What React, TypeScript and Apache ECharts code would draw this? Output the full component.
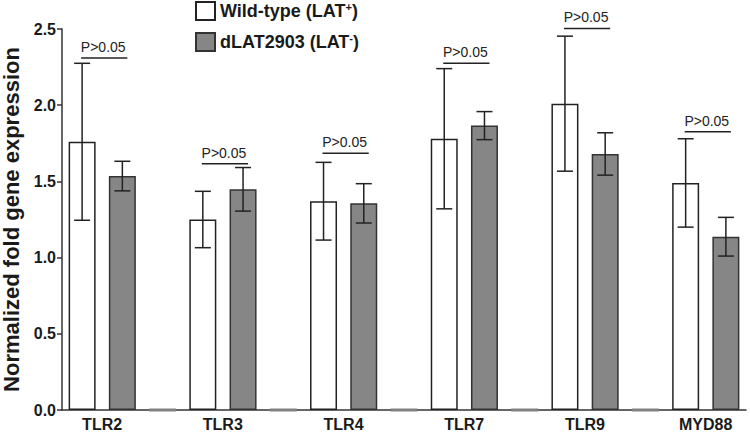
import React, { useEffect, useRef } from 'react';
import * as echarts from 'echarts';

const genes = ['TLR2', 'TLR3', 'TLR4', 'TLR7', 'TLR9', 'MYD88'];
const wildTypeMean = [1.76, 1.25, 1.37, 1.78, 2.01, 1.49];
const wildTypeSD = [0.515, 0.185, 0.255, 0.46, 0.443, 0.29];
const dlatMean = [1.535, 1.448, 1.356, 1.866, 1.68, 1.137];
const dlatSD = [0.097, 0.143, 0.129, 0.092, 0.139, 0.127];
const spacerValue = 0;
const pLabels = ['P>0.05', 'P>0.05', 'P>0.05', 'P>0.05', 'P>0.05', 'P>0.05'];
const pBracketHeights = [2.31, 1.616, 1.684, 2.275, 2.504, 1.826];
const yMin = 0;
const yMax = 2.5;
const yInterval = 0.5;

const WT_NAME = 'Wild-type (LAT+)';
const DL_NAME = 'dLAT2903 (LAT-)';
const FONT = 'Arial, "Liberation Sans", sans-serif';

// 3 slots per gene: wild-type, dLAT, spacer (no spacer after last gene)
const slots: string[] = [];
const wtData: (number | string)[] = [];
const dlData: (number | string)[] = [];
const spData: number[][] = [];
genes.forEach((g, i) => {
  slots.push(g);
  wtData.push(wildTypeMean[i]); dlData.push('-');
  slots.push(g + ' dLAT');
  wtData.push('-'); dlData.push(dlatMean[i]);
  if (i < genes.length - 1) {
    slots.push('gap ' + i);
    wtData.push('-'); dlData.push('-');
    spData.push([slots.length - 1, spacerValue]);
  }
});

const slotOf = (i: number) => i * 3;

const errData: number[][] = [];
genes.forEach((g, i) => {
  errData.push([slotOf(i), wildTypeMean[i] - wildTypeSD[i], wildTypeMean[i] + wildTypeSD[i]]);
  errData.push([slotOf(i) + 1, dlatMean[i] - dlatSD[i], dlatMean[i] + dlatSD[i]]);
});

const bracketData = genes.map((g, i) => [slotOf(i), slotOf(i) + 1, pBracketHeights[i]]);

export default function App() {
  const ref = useRef<HTMLDivElement>(null);
  useEffect(() => {
    if (!ref.current) return;
    const chart = echarts.init(ref.current, undefined, { renderer: 'svg' });
    const errStyle = { stroke: '#222', lineWidth: 1.5 };
    chart.setOption({
      animation: false,
      backgroundColor: '#fff',
      textStyle: { fontFamily: FONT },
      grid: { left: 62, right: 4, top: 29, bottom: 22, containLabel: false, outerBoundsMode: 'none' },
      legend: {
        orient: 'vertical',
        left: 195,
        top: 1,
        padding: 0,
        icon: 'rect',
        itemWidth: 19,
        itemHeight: 18,
        itemGap: 11,
        data: [WT_NAME, DL_NAME],
        formatter: (name: string) =>
          name === WT_NAME
            ? '{b|Wild-type (LAT}{s|+}{b|)}'
            : '{b|dLAT2903 (LAT}{s|-}{b|)}',
        textStyle: {
          rich: {
            b: { fontFamily: FONT, fontWeight: 'bold', fontSize: 18, color: '#1a1a1a', lineHeight: 20 },
            s: { fontFamily: FONT, fontWeight: 'bold', fontSize: 11, color: '#1a1a1a', verticalAlign: 'top', lineHeight: 12 },
          },
        },
      },
      xAxis: {
        type: 'category',
        data: slots,
        axisLine: { lineStyle: { color: '#333', width: 1.5 } },
        axisTick: { show: false },
        axisLabel: {
          interval: (idx: number) => idx % 3 === 0,
          formatter: (v: string) => v,
          fontFamily: FONT,
          fontWeight: 'bold',
          fontSize: 16,
          color: '#1a1a1a',
          margin: 6,
          padding: [0, 0, 0, 40],
        },
      },
      yAxis: {
        type: 'value',
        min: yMin,
        max: yMax,
        interval: yInterval,
        name: 'Normalized fold gene expression',
        nameLocation: 'middle',
        nameGap: 34,
        nameTextStyle: { fontFamily: FONT, fontWeight: 'bold', fontSize: 22, color: '#1a1a1a' },
        axisLine: { show: true, lineStyle: { color: '#333', width: 1.5 } },
        axisTick: { show: true, length: 5, lineStyle: { color: '#333', width: 1.5 } },
        splitLine: { show: false },
        axisLabel: {
          formatter: (v: number) => v.toFixed(1),
          fontFamily: FONT,
          fontWeight: 'bold',
          fontSize: 16,
          color: '#1a1a1a',
          margin: 6,
        },
      },
      series: [
        {
          name: WT_NAME,
          type: 'bar',
          stack: 'all',
          barWidth: 27,
          data: wtData,
          itemStyle: { color: '#fff', borderColor: '#222', borderWidth: 1.5 },
        },
        {
          name: DL_NAME,
          type: 'bar',
          stack: 'all',
          barWidth: 27,
          data: dlData,
          itemStyle: { color: '#868686', borderColor: '#333', borderWidth: 1.5 },
        },
        {
          name: 'spacer',
          type: 'custom',
          z: 4,
          clip: false,
          encode: { x: 0, y: 1 },
          data: spData,
          renderItem: (params: any, api: any) => {
            const p = api.coord([api.value(0), api.value(1)]);
            const w = api.size([1, 0])[0] * 0.67;
            return {
              type: 'rect',
              shape: { x: p[0] - w / 2, y: p[1] - 1.5, width: w, height: 3 },
              style: { fill: '#808080' },
            };
          },
        },
        {
          name: 'error',
          type: 'custom',
          z: 5,
          clip: false,
          encode: { x: 0, y: [1, 2] },
          data: errData,
          renderItem: (params: any, api: any) => {
            const x = api.value(0);
            const lo = api.coord([x, api.value(1)]);
            const hi = api.coord([x, api.value(2)]);
            const hw = 8;
            return {
              type: 'group',
              children: [
                { type: 'line', shape: { x1: hi[0], y1: hi[1], x2: lo[0], y2: lo[1] }, style: errStyle },
                { type: 'line', shape: { x1: hi[0] - hw, y1: hi[1], x2: hi[0] + hw, y2: hi[1] }, style: errStyle },
                { type: 'line', shape: { x1: lo[0] - hw, y1: lo[1], x2: lo[0] + hw, y2: lo[1] }, style: errStyle },
              ],
            };
          },
        },
        {
          name: 'bracket',
          type: 'custom',
          z: 5,
          clip: false,
          encode: { x: [0, 1], y: 2 },
          data: bracketData,
          renderItem: (params: any, api: any) => {
            const h = api.value(2);
            const p1 = api.coord([api.value(0), h]);
            const p2 = api.coord([api.value(1), h]);
            const x1 = p1[0] - 1;
            const x2 = p2[0] + 5;
            return {
              type: 'group',
              children: [
                { type: 'line', shape: { x1, y1: p1[1], x2, y2: p1[1] }, style: { stroke: '#222', lineWidth: 1.5 } },
                {
                  type: 'text',
                  x: (x1 + x2) / 2 - 1,
                  y: p1[1] - 11,
                  style: {
                    text: pLabels[params.dataIndex],
                    fontFamily: FONT,
                    fontSize: 14,
                    fill: '#222',
                    align: 'center',
                    verticalAlign: 'middle',
                  },
                },
              ],
            };
          },
        },
      ],
    });
    return () => chart.dispose();
  }, []);
  return (
    <div
      ref={ref}
      style={{ position: 'fixed', left: 0, top: 0, width: 750, height: 432, background: '#fff' }}
    />
  );
}
